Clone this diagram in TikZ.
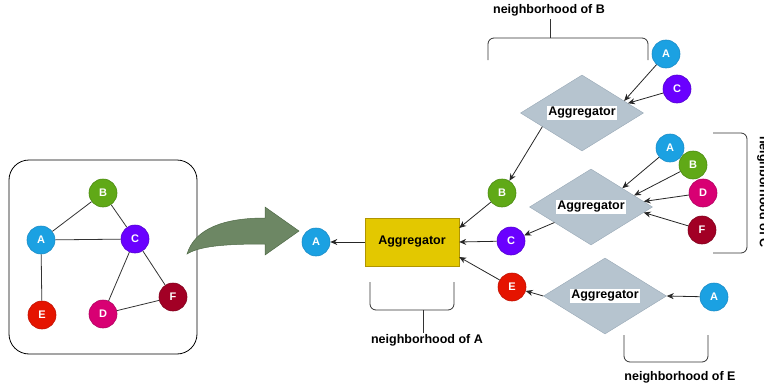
\documentclass[tikz,border=0pt]{standalone}
\usepackage{fontspec}
\setmainfont{Liberation Sans}
\usetikzlibrary{shapes.geometric,arrows.meta}

\definecolor{cA}{HTML}{1BA1E2}\definecolor{sA}{HTML}{1A8CC8}
\definecolor{cB}{HTML}{60A917}\definecolor{sB}{HTML}{4A8A10}
\definecolor{cC}{HTML}{6A00FF}\definecolor{sC}{HTML}{5200D0}
\definecolor{cD}{HTML}{D80073}\definecolor{sD}{HTML}{B00060}
\definecolor{cE}{HTML}{E51400}\definecolor{sE}{HTML}{C01000}
\definecolor{cF}{HTML}{A20025}\definecolor{sF}{HTML}{80001C}
\definecolor{aggfill}{HTML}{E3C800}\definecolor{aggline}{HTML}{B09500}
\definecolor{dmdfill}{HTML}{B6C4CF}\definecolor{dmdline}{HTML}{98A8B6}
\definecolor{bigarrow}{HTML}{6D8764}\definecolor{bigarrowline}{HTML}{4F6A47}

\begin{document}
\begin{tikzpicture}[x=1pt,y=-1pt,
  vtx/.style={circle,minimum size=28pt,inner sep=0pt,text=white,
    font=\fontsize{11}{13}\selectfont\bfseries,line width=0.6pt},
  vA/.style={vtx,fill=cA,draw=sA}, vB/.style={vtx,fill=cB,draw=sB},
  vC/.style={vtx,fill=cC,draw=sC}, vD/.style={vtx,fill=cD,draw=sD},
  vE/.style={vtx,fill=cE,draw=sE}, vF/.style={vtx,fill=cF,draw=sF},
  edge/.style={draw=black!80,line width=0.8pt},
  arr/.style={draw=black!85,line width=0.8pt,-{Stealth[length=7pt,width=6pt]}},
  aggbox/.style={rectangle,fill=aggfill,draw=aggline,minimum width=94pt,
    minimum height=48pt,inner sep=0pt,font=\fontsize{12.5}{15}\selectfont\bfseries},
  aggdmd/.style={diamond,fill=dmdfill,draw=dmdline,minimum width=123pt,
    minimum height=76pt,inner sep=0pt},
  dmdtext/.style={fill=white,inner sep=1pt,font=\fontsize{12.5}{15}\selectfont\bfseries},
  nbhd/.style={font=\fontsize{12.5}{15}\selectfont\bfseries},
  brace/.style={draw=black!80,line width=0.8pt,rounded corners=6pt}
]
\useasboundingbox (0,0) rectangle (764,388);

% input graph
\draw[line width=0.8pt,rounded corners=20pt] (9,160) rectangle (197,354);
\node[vA] (gA) at (41,240) {A};
\node[vB] (gB) at (103,193) {B};
\node[vC] (gC) at (135,239) {C};
\node[vD] (gD) at (103,314) {D};
\node[vE] (gE) at (42,315) {E};
\node[vF] (gF) at (173,297) {F};
\draw[edge] (gA) -- (gB);
\draw[edge] (gA) -- (gC);
\draw[edge] (gA) -- (gE);
\draw[edge] (gB) -- (gC);
\draw[edge] (gC) -- (gD);
\draw[edge] (gC) -- (gF);
\draw[edge] (gD) -- (gF);

% curved block arrow
\filldraw[fill=bigarrow,draw=bigarrowline,line width=0.5pt]
  (187,254) .. controls (195,228) and (225,218) .. (265,218) -- (265,207)
  -- (299,231) -- (265,255) -- (265,244)
  .. controls (225,244) and (200,246) .. (187,254) -- cycle;

% aggregation for A
\node[vA] (rA) at (316,242) {A};
\node[aggbox] (agg) at (412,242) {Aggregator};
\draw[arr] (agg.west) -- (rA);

\node[vB] (rB) at (502,193) {B};
\node[vC] (rC) at (511,241) {C};
\node[vE] (rE) at (512,287) {E};
\draw[arr] (rB) -- ([yshift=14pt]agg.east);
\draw[arr] (rC) -- (agg.east);
\draw[arr] (rE) -- ([yshift=-15pt]agg.east);

% aggregation for B
\node[aggdmd] (aggB) at (582,113) {};
\node[dmdtext] (tB) at (aggB) {Aggregator};
\node[vA] (bA) at (666,54) {A};
\node[vC] (bC) at (677,89) {C};
\draw[arr] (bA) -- (aggB.16);
\draw[arr] (bC) -- (aggB.12);
\draw[arr] (aggB.199) -- (rB);

% aggregation for C
\node[aggdmd] (aggC) at (591,207) {};
\node[dmdtext] (tC) at (aggC) {Aggregator};
\node[vA] (cA1) at (670,148) {A};
\node[vB] (cB1) at (693,165) {B};
\node[vD] (cD1) at (703,193) {D};
\node[vF] (cF1) at (702,230) {F};
\draw[arr] (cA1) -- (aggC.31);
\draw[arr] (cB1) -- (aggC.15);
\draw[arr] (cD1) -- (aggC.6);
\draw[arr] (cF1) -- (aggC.-6);
\draw[arr] (aggC.203) -- (rC);

% aggregation for E
\node[aggdmd] (aggE) at (605,296) {};
\node[dmdtext] (tE) at (aggE) {Aggregator};
\node[vA] (eA) at (714,297) {A};
\draw[arr] (eA) -- (aggE.east);
\draw[arr] (aggE.west) -- (rE);

% neighbourhood brackets
\draw[brace] (370,282) -- (370,310) -- (454,310) -- (454,282);
\draw[edge] (423,310) -- (423,333);
\node[nbhd] (lA) at (427,340) {neighborhood of A};

\draw[brace] (488,60) -- (488,38) -- (648,38) -- (648,60);
\draw[edge] (550,38) -- (550,19);
\node[nbhd] (lB) at (549,10) {neighborhood of B};

\draw[brace] (713,133) -- (747,133) -- (747,253) -- (713,253);
\node[nbhd,rotate=-90] (lC) at (763,192) {neighborhood of C};

\draw[brace] (624,335) -- (624,362) -- (708,362) -- (708,335);
\node[nbhd] (lE) at (680,377) {neighborhood of E};
\end{tikzpicture}
\end{document}
